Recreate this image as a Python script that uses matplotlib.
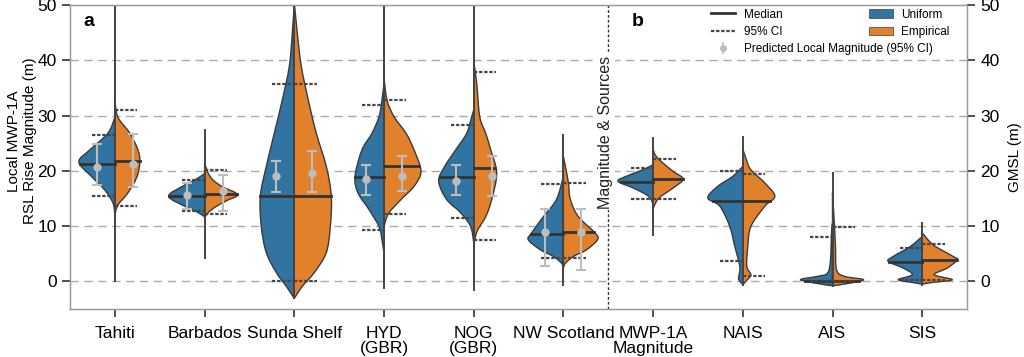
import matplotlib
matplotlib.use("Agg")
import matplotlib.pyplot as plt
from matplotlib.lines import Line2D
from matplotlib.patches import Patch, PathPatch
from matplotlib.path import Path
import numpy as np

plt.rcParams['font.family'] = ['Liberation Sans', 'DejaVu Sans']

labels = ["Tahiti", "Barbados", "Sunda Shelf", "HYD\n(GBR)", "NOG\n(GBR)", "NW Scotland",
          "MWP-1A\nMagnitude", "NAIS", "AIS", "SIS"]

# violin outline profiles: (y nodes, relative density)
uni_y = [
    [12.0, 14.2, 16.5, 18.9, 21.6, 23.8, 26.8, 29.7],
    [11.7, 12.6, 13.6, 15.4, 17.2, 18.3, 19.5],
    [-3.1, -0.9, 1.6, 5.2, 9.9, 15.4, 20.8, 26.8, 32.8, 38.9, 44.9, 50.5],
    [5.0, 7.5, 9.9, 13.0, 16.0, 19.0, 23.8, 26.8, 29.8, 32.8, 35.9],
    [7.0, 9.9, 12.4, 14.8, 18.1, 20.8, 23.8, 26.8, 29.8, 31.0],
    [2.5, 3.3, 4.5, 5.7, 7.5, 8.7, 11.7, 14.8, 19.0],
    [13.8, 14.8, 15.7, 16.9, 18.1, 19.0, 20.2, 21.1],
    [-0.6, 0.3, 0.9, 2.7, 6.3, 9.9, 13.6, 15.1, 17.2, 19.0, 20.8],
    [-0.8, -0.4, 0.3, 0.9, 1.5, 3.9, 8.7, 10.5],
    [-0.5, -0.2, 0.3, 1.2, 2.4, 3.6, 4.5, 6.3, 8.1],
]
uni_d = [
    [0, 2, 10, 23, 36, 25, 7, 0],
    [0, 8, 20, 36, 22, 10, 0],
    [0, 8, 18, 28, 33, 34, 28, 20, 12, 5, 2, 0],
    [0, 2, 5, 15, 26, 29, 22, 12, 5, 2, 0],
    [0, 3, 13, 27, 35, 29, 18, 7, 2, 0],
    [0, 2, 10, 23, 35, 32, 20, 7, 0],
    [0, 2, 7, 20, 35, 27, 10, 0],
    [0, 4, 4, 3, 8, 13, 23, 35, 25, 10, 0],
    [0, 15, 32, 15, 5, 2, 1, 0],
    [0, 10, 24, 10, 19, 34, 29, 12, 0],
]
emp_y = [
    [12.0, 13.8, 16.0, 18.9, 21.7, 23.8, 26.8, 29.7, 32.8],
    [11.5, 12.5, 13.6, 14.6, 15.7, 17.2, 18.4, 19.8, 21.5],
    [-3.1, -0.9, 1.6, 5.2, 9.9, 15.4, 20.8, 26.8, 32.8, 38.9, 44.9, 50.5],
    [9.5, 10.6, 12.4, 14.8, 17.2, 19.9, 23.8, 26.8, 29.8, 32.8, 36.9],
    [6.0, 7.5, 9.3, 11.7, 14.8, 19.6, 23.8, 26.8, 29.8, 35.9, 39.8],
    [2.5, 3.3, 4.5, 5.7, 7.5, 8.7, 11.7, 14.8, 17.8, 20.8, 22.5],
    [12.8, 13.6, 15.1, 16.9, 18.5, 19.9, 21.7, 22.9, 24.0],
    [-0.6, 0.0, 1.2, 2.7, 6.3, 9.9, 13.6, 15.4, 17.8, 20.2, 22.3, 24.0],
    [-0.8, -0.4, 0.3, 0.9, 2.1, 6.3, 9.9, 13.0, 16.0],
    [-0.5, -0.2, 0.3, 1.2, 2.4, 3.9, 4.5, 6.6, 8.8],
]
emp_d = [
    [0, 3, 13, 22, 25, 23, 15, 3, 0],
    [0, 4, 12, 22, 33, 17, 8, 3, 0],
    [0, 8, 20, 32, 36, 37, 32, 22, 14, 7, 3, 0],
    [0, 1, 5, 17, 30, 37, 30, 22, 10, 3, 0],
    [0, 1, 4, 12, 18, 23, 17, 12, 6, 3, 0],
    [0, 2, 10, 23, 34, 32, 15, 7, 5, 2, 0],
    [0, 1, 6, 20, 30, 20, 8, 2, 0],
    [0, 3, 8, 4, 5, 8, 22, 32, 22, 8, 3, 0],
    [0, 15, 31, 12, 4, 3, 2, 1, 0],
    [0, 10, 30, 12, 25, 35, 31, 11, 0],
]

range_min = [0.0, 4.2, -3.1, -1.2, -1.6, -0.6, 8.4, -0.6, -0.9, -0.6]
range_max = [50.0, 27.4, 50.0, 50.0, 50.0, 26.5, 25.9, 26.2, 19.6, 10.6]

uni_med = [21.3, 15.4, 15.5, 18.9, 18.8, 8.6, 17.9, 14.5, 0.1, 3.5]
emp_med = [21.7, 15.8, 15.5, 20.8, 20.5, 8.9, 18.5, 14.5, 0.1, 3.9]
uni_lo = [15.5, 12.8, 0.1, 9.3, 11.5, 4.3, 14.9, 3.6, 0.0, 0.3]
uni_hi = [26.5, 18.3, 35.7, 31.9, 28.2, 17.7, 20.5, 20.0, 8.0, 6.0]
emp_lo = [13.6, 12.1, 0.1, 12.1, 7.4, 4.2, 14.9, 0.9, 0.0, 0.2]
emp_hi = [31.0, 20.1, 35.7, 32.8, 37.8, 17.8, 22.1, 19.5, 9.8, 6.8]

# predicted local magnitude (first six sites only)
pred_uni = [20.6, 15.6, 19.0, 18.5, 18.2, 8.9]
pred_uni_lo = [17.5, 13.1, 16.1, 15.7, 15.7, 2.7]
pred_uni_hi = [24.8, 17.8, 21.8, 21.1, 21.0, 13.0]
pred_emp = [21.2, 16.3, 19.6, 19.1, 19.0, 9.0]
pred_emp_lo = [17.0, 12.7, 16.1, 16.3, 15.4, 2.1]
pred_emp_hi = [26.7, 19.3, 23.5, 22.6, 22.6, 13.0]

blue = '#3274a1'
orange = '#e1812c'
edge = '#3a3a3a'
wscale = 1 / 89.7


def half_violin(ax, c, ys, ds, side, color):
    # smooth outline through the nodes (Catmull-Rom as cubic Bezier)
    w = np.array(ds) * wscale
    pts = np.column_stack([c + side * w, ys])
    n = len(pts)
    verts = [pts[0]]
    codes = [Path.MOVETO]
    for k in range(n - 1):
        p0 = pts[max(k - 1, 0)]
        p1 = pts[k]
        p2 = pts[k + 1]
        p3 = pts[min(k + 2, n - 1)]
        c1 = p1 + (p2 - p0) / 6
        c2 = p2 - (p3 - p1) / 6
        if side < 0:
            c1[0] = min(c1[0], c); c2[0] = min(c2[0], c)
        else:
            c1[0] = max(c1[0], c); c2[0] = max(c2[0], c)
        verts += [c1, c2, p2]
        codes += [Path.CURVE4] * 3
    verts += [pts[0], pts[0]]
    codes += [Path.LINETO, Path.CLOSEPOLY]
    ax.add_patch(PathPatch(Path(verts, codes), facecolor=color, edgecolor=edge, lw=1, zorder=3))


fig = plt.figure(figsize=(10.24, 3.57), dpi=100)
ax = fig.add_axes([0.0684, 0.1345, 0.876, 0.8515])

for i in range(len(labels)):
    half_violin(ax, i, uni_y[i], uni_d[i], -1, blue)
    half_violin(ax, i, emp_y[i], emp_d[i], 1, orange)
    ax.plot([i, i], [range_min[i], range_max[i]], color='#444444', lw=1.4, zorder=4)
    # medians span the violin width
    mb = np.interp(uni_med[i], uni_y[i], uni_d[i]) * wscale
    mo = np.interp(emp_med[i], emp_y[i], emp_d[i]) * wscale
    ax.plot([i - mb, i], [uni_med[i]] * 2, color='#333333', lw=2, zorder=5)
    ax.plot([i, i + mo], [emp_med[i]] * 2, color='#333333', lw=2, zorder=5)
    # 95% CI
    for v in (uni_lo[i], uni_hi[i]):
        ax.plot([i - 0.25, i], [v, v], color='#444444', lw=1.6, ls=(0, (1.5, 0.8)), zorder=5)
    for v in (emp_lo[i], emp_hi[i]):
        ax.plot([i, i + 0.25], [v, v], color='#444444', lw=1.6, ls=(0, (1.5, 0.8)), zorder=5)

xs = np.arange(len(pred_uni))
eb_kw = dict(fmt='o', color='#bdbdbd', ms=5, capsize=3.5, elinewidth=1.5, capthick=1.5, zorder=6)
ax.errorbar(xs - 0.2, pred_uni, yerr=[np.array(pred_uni) - pred_uni_lo,
                                      np.array(pred_uni_hi) - pred_uni], **eb_kw)
ax.errorbar(xs + 0.2, pred_emp, yerr=[np.array(pred_emp) - pred_emp_lo,
                                      np.array(pred_emp_hi) - pred_emp], **eb_kw)

# separator between panels
ax.axvline(5.5, color='#333333', lw=1, ls=(0, (2, 1.5)), zorder=2)
ax.text(5.47, 27, 'Magnitude & Sources', rotation=90, ha='center', va='center',
        fontsize=11.5, color='#222222', zorder=7,
        bbox=dict(facecolor='white', edgecolor='none', pad=1))

ax.set_xlim(-0.5, 9.5)
ax.set_ylim(-5, 50)
ax.set_yticks([0, 10, 20, 30, 40, 50])
ax.set_xticks(range(len(labels)))
ax.set_xticklabels(labels, fontsize=12.5, linespacing=1.0)
ax.tick_params(axis='y', labelsize=12.5, length=6, width=1.2, color='#333333')
ax.tick_params(axis='x', length=6, width=1.2, color='#333333', pad=6)
for y in [0, 10, 20, 30, 40]:
    ax.axhline(y, color='#aaaaaa', lw=1, ls=(0, (6, 4)), zorder=1)
for s in ax.spines.values():
    s.set_color('#999999')
    s.set_linewidth(1)

ax.set_ylabel('Local MWP-1A\nRSL Rise Magnitude (m)', fontsize=11, linespacing=1.15)
ax.yaxis.set_label_coords(-0.037, 0.553)

ax2 = ax.twinx()
ax2.set_ylim(-5, 50)
ax2.set_yticks([0, 10, 20, 30, 40, 50])
ax2.tick_params(axis='y', labelsize=12.5, length=6, width=1.2, color='#333333')
ax2.set_ylabel('GMSL (m)', fontsize=11, labelpad=6)
for s in ax2.spines.values():
    s.set_color('#999999')

ax.text(0.021, 0.946, 'a', transform=ax.transAxes, fontsize=14, fontweight='bold', va='center', ha='center')
ax.text(0.633, 0.946, 'b', transform=ax.transAxes, fontsize=14, fontweight='bold', va='center', ha='center')

pred_handle = ax2.errorbar([], [], yerr=[], fmt='o', color='#bdbdbd', ms=4, capsize=2, elinewidth=1.2)
h1 = [Line2D([], [], color='#333333', lw=2),
      Line2D([], [], color='#444444', lw=1.6, ls=(0, (1.5, 0.8))),
      pred_handle]
leg1 = ax.legend(h1, ['Median', '95% CI', 'Predicted Local Magnitude (95% CI)'],
                 loc='upper left', bbox_to_anchor=(0.711, 1.0), frameon=False,
                 fontsize=8.5, handlelength=2, handletextpad=0.8, borderpad=0.3,
                 labelspacing=0.45, borderaxespad=0)
ax.add_artist(leg1)
h2 = [Patch(facecolor=blue, edgecolor=edge, lw=0.5), Patch(facecolor=orange, edgecolor=edge, lw=0.5)]
ax.legend(h2, ['Uniform', 'Empirical'], loc='upper left', bbox_to_anchor=(0.887, 1.0),
          frameon=False, fontsize=8.5, handlelength=2, handletextpad=0.7, borderpad=0.3,
          labelspacing=0.45, borderaxespad=0)

fig.savefig('out.png', dpi=100)
